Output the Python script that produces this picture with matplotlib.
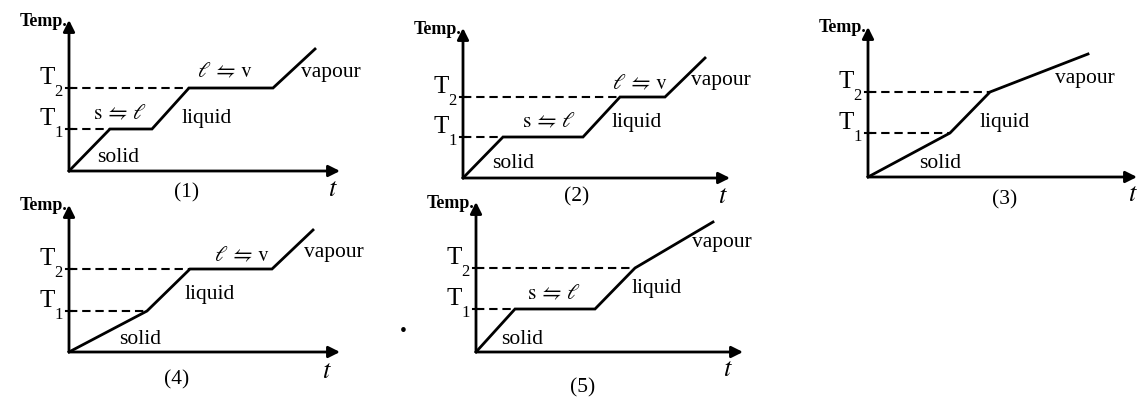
import matplotlib
matplotlib.use('Agg')
import matplotlib.pyplot as plt

plt.rcParams['font.family'] = ['Liberation Serif', 'DejaVu Serif']
plt.rcParams['mathtext.fontset'] = 'stix'
plt.rcParams['lines.scale_dashes'] = False

W, H = 1141, 399

# heating curves: time and temperature at each break point (arbitrary units)
t1 = [0, 41, 83, 120, 204, 246]
temp1 = [0, 42, 42, 83, 83, 122]
t2 = [0, 40, 120, 157, 202, 242]
temp2 = [0, 41, 41, 81, 81, 120]
t3 = [0, 82, 122, 220]
temp3 = [0, 44, 85, 123]
t4 = [0, 78, 121, 203, 244]
temp4 = [0, 41, 83, 83, 122]
t5 = [0, 39, 119, 159, 237]
temp5 = [0, 43, 43, 84, 130]
T1_levels = [42, 41, 44, 41, 43]
T2_levels = [83, 81, 85, 83, 84]
panel_names = ['(1)', '(2)', '(3)', '(4)', '(5)']

SL = r'$\mathrm{s}\,\leftrightharpoons\,\ell$'
LV = r'$\ell\,\leftrightharpoons\,\mathrm{v}$'

# layout: origin in pixels, axis lengths, label spots (relative to origin)
panels = [
    dict(t=t1, temp=temp1, origin=(69, 171), size=(271, 151),
         labels=[(SL, 51, 56), ('liquid', 138, 53), (LV, 156, 98),
                 ('vapour', 262, 99), ('solid', 49, 14)],
         name=(118, -22), tlab=(264, -19)),
    dict(t=t2, temp=temp2, origin=(463, 178), size=(267, 150),
         labels=[(SL, 86, 55), ('liquid', 174, 55), (LV, 177, 93),
                 ('vapour', 258, 98), ('solid', 50, 15)],
         name=(114, -19), tlab=(260, -19)),
    dict(t=t3, temp=temp3, origin=(868, 177), size=(269, 150),
         labels=[('vapour', 217, 99), ('liquid', 137, 54), ('solid', 72, 14)],
         name=(137, -23), tlab=(265, -18)),
    dict(t=t4, temp=temp4, origin=(69, 352), size=(271, 147),
         labels=[(LV, 173, 95), ('vapour', 265, 100), ('liquid', 141, 57),
                 ('solid', 71, 12)],
         name=(108, -28), tlab=(258, -20)),
    dict(t=t5, temp=temp5, origin=(476, 352), size=(267, 150),
         labels=[(SL, 78, 57), ('liquid', 181, 64), ('vapour', 246, 110),
                 ('solid', 46, 12)],
         name=(107, -36), tlab=(252, -18)),
]

fig = plt.figure(figsize=(W / 100, H / 100), dpi=100)
fig.patch.set_facecolor('white')

for i, p in enumerate(panels):
    ox, oy = p['origin']
    xl, yl = p['size']
    ax = fig.add_axes([ox / W, (H - oy) / H, xl / W, yl / H])
    ax.set_xlim(0, xl)
    ax.set_ylim(0, yl)
    ax.axis('off')

    # axes with arrow heads
    arrow = dict(arrowstyle='-|>', color='black', lw=2.0, mutation_scale=17,
                 shrinkA=0, shrinkB=0)
    ax.annotate('', xy=(xl, 0), xytext=(0, 0), arrowprops=arrow,
                annotation_clip=False)
    ax.annotate('', xy=(0, yl), xytext=(0, 0), arrowprops=arrow,
                annotation_clip=False)

    # curve
    ax.plot(p['t'], p['temp'], color='black', lw=2.0, clip_on=False,
            solid_joinstyle='miter')

    # dashed guide lines to T1 and T2
    for k, lev in enumerate([T1_levels[i], T2_levels[i]]):
        x_end = p['t'][p['temp'].index(lev)]
        ax.plot([0, x_end], [lev, lev], color='black', lw=1.5,
                dashes=(6, 3.5), clip_on=False)
        ax.plot([-3, 3], [lev, lev], color='black', lw=1.5, clip_on=False)
        ax.text(-14, lev + 4, 'T', fontsize=18, ha='right', va='baseline')
        ax.text(-15, lev - 4, str(k + 1), fontsize=12, ha='left',
                va='center')

    ax.text(-2, yl - 1, 'Temp.', fontsize=13, fontweight='bold',
            ha='right', va='center')

    for txt, x, y in p['labels']:
        ax.text(x, y, txt, fontsize=15.5, ha='center', va='center')

    ax.text(p['name'][0], p['name'][1], panel_names[i], fontsize=15.5,
            ha='center', va='center')
    ax.text(p['tlab'][0], p['tlab'][1], r'$t$', fontsize=19,
            ha='center', va='center')

# stray dot from the scan
fig.text(403 / W, 1 - 332 / H, '\u2022', fontsize=14, ha='center', va='center')

fig.savefig('out.png', dpi=100, facecolor='white')
